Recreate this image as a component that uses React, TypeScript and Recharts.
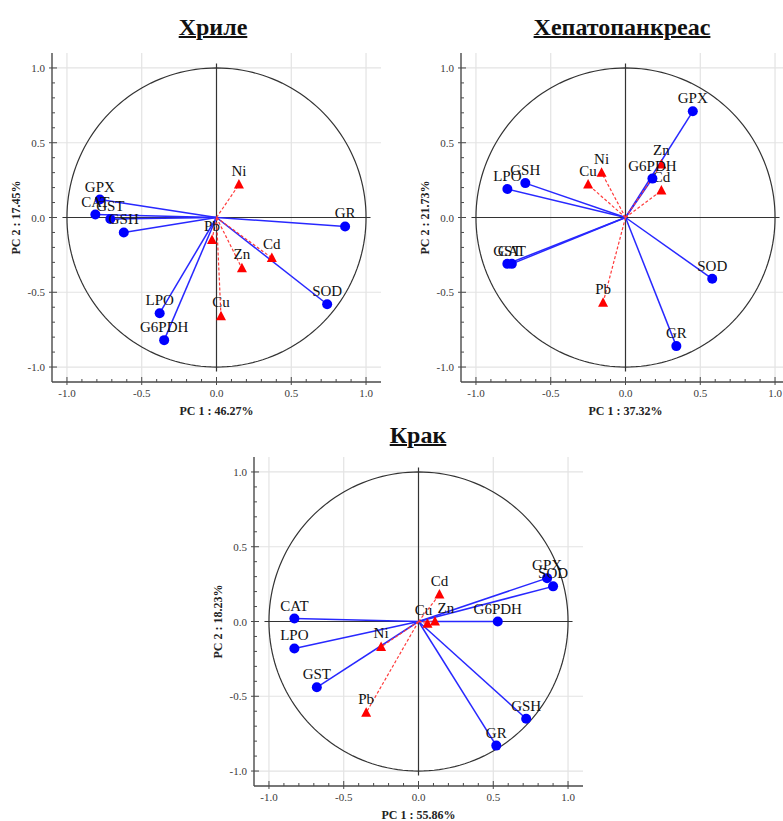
import React from 'react';
import { ScatterChart, Scatter, XAxis, YAxis, ReferenceLine } from 'recharts';

// ---------- Titles / axis texts ----------
const panelTitles = ['Хриле', 'Хепатопанкреас', 'Крак'];
const pc1Titles = ['PC 1 : 46.27%', 'PC 1 : 37.32%', 'PC 1 : 55.86%'];
const pc2Titles = ['PC 2 : 17.45%', 'PC 2 : 21.73%', 'PC 2 : 18.23%'];

// ---------- Ticks ----------
const majorTicks = [-1.0, -0.5, 0.0, 0.5, 1.0];
const minorTicks = [-1.0, -0.9, -0.8, -0.7, -0.6, -0.5, -0.4, -0.3, -0.2, -0.1, 0.0, 0.1, 0.2, 0.3, 0.4, 0.5, 0.6, 0.7, 0.8, 0.9, 1.0];
const gridValues = [-1.0, -0.5, 0.5, 1.0];

// ---------- Хриле ----------
const gillEnzymes = ['GPX', 'CAT', 'GST', 'GSH', 'GR', 'SOD', 'LPO', 'G6PDH'];
const gillEnzymePC1 = [-0.78, -0.81, -0.71, -0.62, 0.86, 0.74, -0.38, -0.35];
const gillEnzymePC2 = [0.12, 0.02, -0.01, -0.10, -0.06, -0.58, -0.64, -0.82];
const gillMetals = ['Ni', 'Pb', 'Cd', 'Zn', 'Cu'];
const gillMetalPC1 = [0.15, -0.03, 0.37, 0.17, 0.03];
const gillMetalPC2 = [0.22, -0.15, -0.27, -0.34, -0.66];

// ---------- Хепатопанкреас ----------
const hepEnzymes = ['GPX', 'G6PDH', 'GSH', 'LPO', 'GST', 'CAT', 'SOD', 'GR'];
const hepEnzymePC1 = [0.45, 0.18, -0.67, -0.79, -0.79, -0.76, 0.58, 0.34];
const hepEnzymePC2 = [0.71, 0.26, 0.23, 0.19, -0.31, -0.31, -0.41, -0.86];
const hepMetals = ['Zn', 'Cd', 'Ni', 'Cu', 'Pb'];
const hepMetalPC1 = [0.24, 0.24, -0.16, -0.25, -0.15];
const hepMetalPC2 = [0.355, 0.18, 0.30, 0.22, -0.57];

// ---------- Крак ----------
const legEnzymes = ['GPX', 'SOD', 'G6PDH', 'CAT', 'LPO', 'GST', 'GSH', 'GR'];
const legEnzymePC1 = [0.86, 0.90, 0.53, -0.83, -0.83, -0.68, 0.72, 0.52];
const legEnzymePC2 = [0.29, 0.235, 0.0, 0.02, -0.18, -0.44, -0.65, -0.83];
const legMetals = ['Cd', 'Cu', 'Zn', 'Ni', 'Pb'];
const legMetalPC1 = [0.14, 0.06, 0.11, -0.25, -0.35];
const legMetalPC2 = [0.18, -0.015, 0.0, -0.17, -0.61];

// ---------- label nudges (style, px) ----------
const legLabelNudge: Record<string, number> = { Cu: -4, Zn: 11 };

// ---------- helpers ----------
const build = (names: string[], a: number[], b: number[]) =>
  names.map((name, i) => ({ name, x: a[i], y: b[i] }));

const unitCircle = Array.from({ length: 181 }, (_, i) => {
  const t = (i * 2 * Math.PI) / 180;
  return { x: Math.cos(t), y: Math.sin(t) };
});

const isMajor = (v: number) => majorTicks.some((m) => Math.abs(m - v) < 1e-6);
const fmt = (v: number) => v.toFixed(1);

const TICK_COLOR = '#3a3a3a';
const FRAME = '#4a4a4a';

const makeTick = (side: 'bottom' | 'top' | 'left' | 'right') => (props: any) => {
  const { x, y, payload } = props;
  const v = payload.value;
  const major = isMajor(v);
  const len = major ? 5 : 3;
  if (side === 'bottom') {
    return (
      <g>
        <line x1={x} y1={y} x2={x} y2={y - len} stroke={FRAME} strokeWidth={1} />
        {major && <line x1={x} y1={y} x2={x} y2={y + 3} stroke={FRAME} strokeWidth={1} />}
        {major && (
          <text x={x} y={y + 15} textAnchor="middle" fontSize={11} fill={TICK_COLOR}>
            {fmt(v)}
          </text>
        )}
      </g>
    );
  }
  if (side === 'top') {
    return <line x1={x} y1={y} x2={x} y2={y + len} stroke={FRAME} strokeWidth={1} />;
  }
  if (side === 'left') {
    return (
      <g>
        <line x1={x} y1={y} x2={x + len} y2={y} stroke={FRAME} strokeWidth={1} />
        {major && <line x1={x} y1={y} x2={x - 3} y2={y} stroke={FRAME} strokeWidth={1} />}
        {major && (
          <text x={x - 7} y={y + 4} textAnchor="end" fontSize={11} fill={TICK_COLOR}>
            {fmt(v)}
          </text>
        )}
      </g>
    );
  }
  return <line x1={x} y1={y} x2={x - len} y2={y} stroke={FRAME} strokeWidth={1} />;
};

const makeBlueMarker = (nudge: Record<string, number>) => (props: any) => {
  const { cx, cy, payload } = props;
  if (cx == null || cy == null) return <g />;
  return (
    <g>
      <circle cx={cx} cy={cy} r={5} fill="#0000ff" />
      <text x={cx + (nudge[payload.name] || 0)} y={cy - 8} textAnchor="middle" fontSize={15} fill="#111">
        {payload.name}
      </text>
    </g>
  );
};

const makeRedMarker = (nudge: Record<string, number>) => (props: any) => {
  const { cx, cy, payload } = props;
  if (cx == null || cy == null) return <g />;
  return (
    <g>
      <path d={`M${cx},${cy - 5.5} L${cx + 5},${cy + 4} L${cx - 5},${cy + 4} Z`} fill="#ff0000" />
      <text x={cx + (nudge[payload.name] || 0)} y={cy - 9} textAnchor="middle" fontSize={15} fill="#111">
        {payload.name}
      </text>
    </g>
  );
};

const Empty = () => <g />;

type PanelProps = {
  left: number;
  top: number;
  pc1: string;
  pc2: string;
  enzymes: { name: string; x: number; y: number }[];
  metals: { name: string; x: number; y: number }[];
  nudge?: Record<string, number>;
};

const SIZE = 390;

const Panel = ({ left, top, pc1, pc2, enzymes, metals, nudge = {} }: PanelProps) => (
  <div style={{ position: 'absolute', left, top, width: SIZE, height: SIZE }}>
    <ScatterChart width={SIZE} height={SIZE} margin={{ top: 13, right: 9, bottom: 0, left: 0 }}>
      <XAxis
        type="number"
        dataKey="x"
        domain={[-1.1, 1.1]}
        allowDataOverflow
        ticks={minorTicks}
        interval={0}
        tickSize={0}
        tickMargin={0}
        tickLine={false}
        height={48}
        axisLine={{ stroke: FRAME, strokeWidth: 1.4 }}
        tick={makeTick('bottom')}
        label={{
          value: pc1,
          position: 'insideBottom',
          offset: 15,
          fontSize: 12,
          fontWeight: 'bold',
          fill: '#222',
        }}
      />
      <XAxis
        xAxisId="top"
        orientation="top"
        type="number"
        dataKey="x"
        domain={[-1.1, 1.1]}
        allowDataOverflow
        ticks={minorTicks}
        interval={0}
        tickSize={0}
        tickMargin={0}
        tickLine={false}
        height={0}
        axisLine={{ stroke: FRAME, strokeWidth: 1.4 }}
        tick={makeTick('top')}
      />
      <YAxis
        type="number"
        dataKey="y"
        domain={[-1.1, 1.1]}
        allowDataOverflow
        ticks={minorTicks}
        interval={0}
        tickSize={0}
        tickMargin={0}
        tickLine={false}
        width={52}
        axisLine={{ stroke: FRAME, strokeWidth: 1.4 }}
        tick={makeTick('left')}
        label={{
          value: pc2,
          angle: -90,
          position: 'insideLeft',
          offset: 16,
          fontSize: 12,
          fontWeight: 'bold',
          fill: '#222',
          style: { textAnchor: 'middle' },
        }}
      />
      <YAxis
        yAxisId="right"
        orientation="right"
        type="number"
        dataKey="y"
        domain={[-1.1, 1.1]}
        allowDataOverflow
        ticks={minorTicks}
        interval={0}
        tickSize={0}
        tickMargin={0}
        tickLine={false}
        width={0}
        axisLine={{ stroke: FRAME, strokeWidth: 1.4 }}
        tick={makeTick('right')}
      />
      {gridValues.map((v) => (
        <ReferenceLine key={`gx${v}`} x={v} stroke="#e3e3e3" strokeWidth={1.2} />
      ))}
      {gridValues.map((v) => (
        <ReferenceLine key={`gy${v}`} y={v} stroke="#e3e3e3" strokeWidth={1.2} />
      ))}
      <ReferenceLine segment={[{ x: -1.03, y: 0 }, { x: 1.03, y: 0 }]} stroke="#333" strokeWidth={1.2} />
      <ReferenceLine segment={[{ x: 0, y: -1.03 }, { x: 0, y: 1.03 }]} stroke="#333" strokeWidth={1.2} />
      <Scatter
        data={unitCircle}
        line={{ stroke: '#333', strokeWidth: 1.2 }}
        shape={Empty}
        isAnimationActive={false}
      />
      {enzymes.map((d) => (
        <Scatter
          key={`bv-${d.name}`}
          data={[{ x: 0, y: 0 }, { x: d.x, y: d.y }]}
          line={{ stroke: '#2828ff', strokeWidth: 1.5 }}
          shape={Empty}
          isAnimationActive={false}
        />
      ))}
      {metals.map((d) => (
        <Scatter
          key={`rv-${d.name}`}
          data={[{ x: 0, y: 0 }, { x: d.x, y: d.y }]}
          line={{ stroke: '#ff3a3a', strokeWidth: 1.2, strokeDasharray: '3 2' }}
          shape={Empty}
          isAnimationActive={false}
        />
      ))}
      <Scatter data={metals} shape={makeRedMarker(nudge)} isAnimationActive={false} />
      <Scatter data={enzymes} shape={makeBlueMarker(nudge)} isAnimationActive={false} />
    </ScatterChart>
  </div>
);

const titleStyle = (cx: number, cy: number): React.CSSProperties => ({
  position: 'absolute',
  left: cx,
  top: cy,
  transform: 'translate(-50%, -50%)',
  fontFamily: '"Liberation Serif", serif',
  fontWeight: 'bold',
  fontSize: 24,
  textDecoration: 'underline',
  textDecorationThickness: 2,
  whiteSpace: 'nowrap',
  color: '#111',
  lineHeight: 1,
});

export default function App() {
  return (
    <div
      style={{
        position: 'absolute',
        left: 0,
        top: 0,
        width: 783,
        height: 821,
        overflow: 'hidden',
        background: '#fff',
        fontFamily: '"Liberation Serif", serif',
      }}
    >
      <div style={titleStyle(213, 27)}>{panelTitles[0]}</div>
      <div style={titleStyle(622, 27)}>{panelTitles[1]}</div>
      <div style={titleStyle(418, 435)}>{panelTitles[2]}</div>
      <Panel
        left={0}
        top={40}
        pc1={pc1Titles[0]}
        pc2={pc2Titles[0]}
        enzymes={build(gillEnzymes, gillEnzymePC1, gillEnzymePC2)}
        metals={build(gillMetals, gillMetalPC1, gillMetalPC2)}
      />
      <Panel
        left={409}
        top={40}
        pc1={pc1Titles[1]}
        pc2={pc2Titles[1]}
        enzymes={build(hepEnzymes, hepEnzymePC1, hepEnzymePC2)}
        metals={build(hepMetals, hepMetalPC1, hepMetalPC2)}
      />
      <Panel
        left={202}
        top={444}
        pc1={pc1Titles[2]}
        pc2={pc2Titles[2]}
        enzymes={build(legEnzymes, legEnzymePC1, legEnzymePC2)}
        metals={build(legMetals, legMetalPC1, legMetalPC2)}
        nudge={legLabelNudge}
      />
    </div>
  );
}
